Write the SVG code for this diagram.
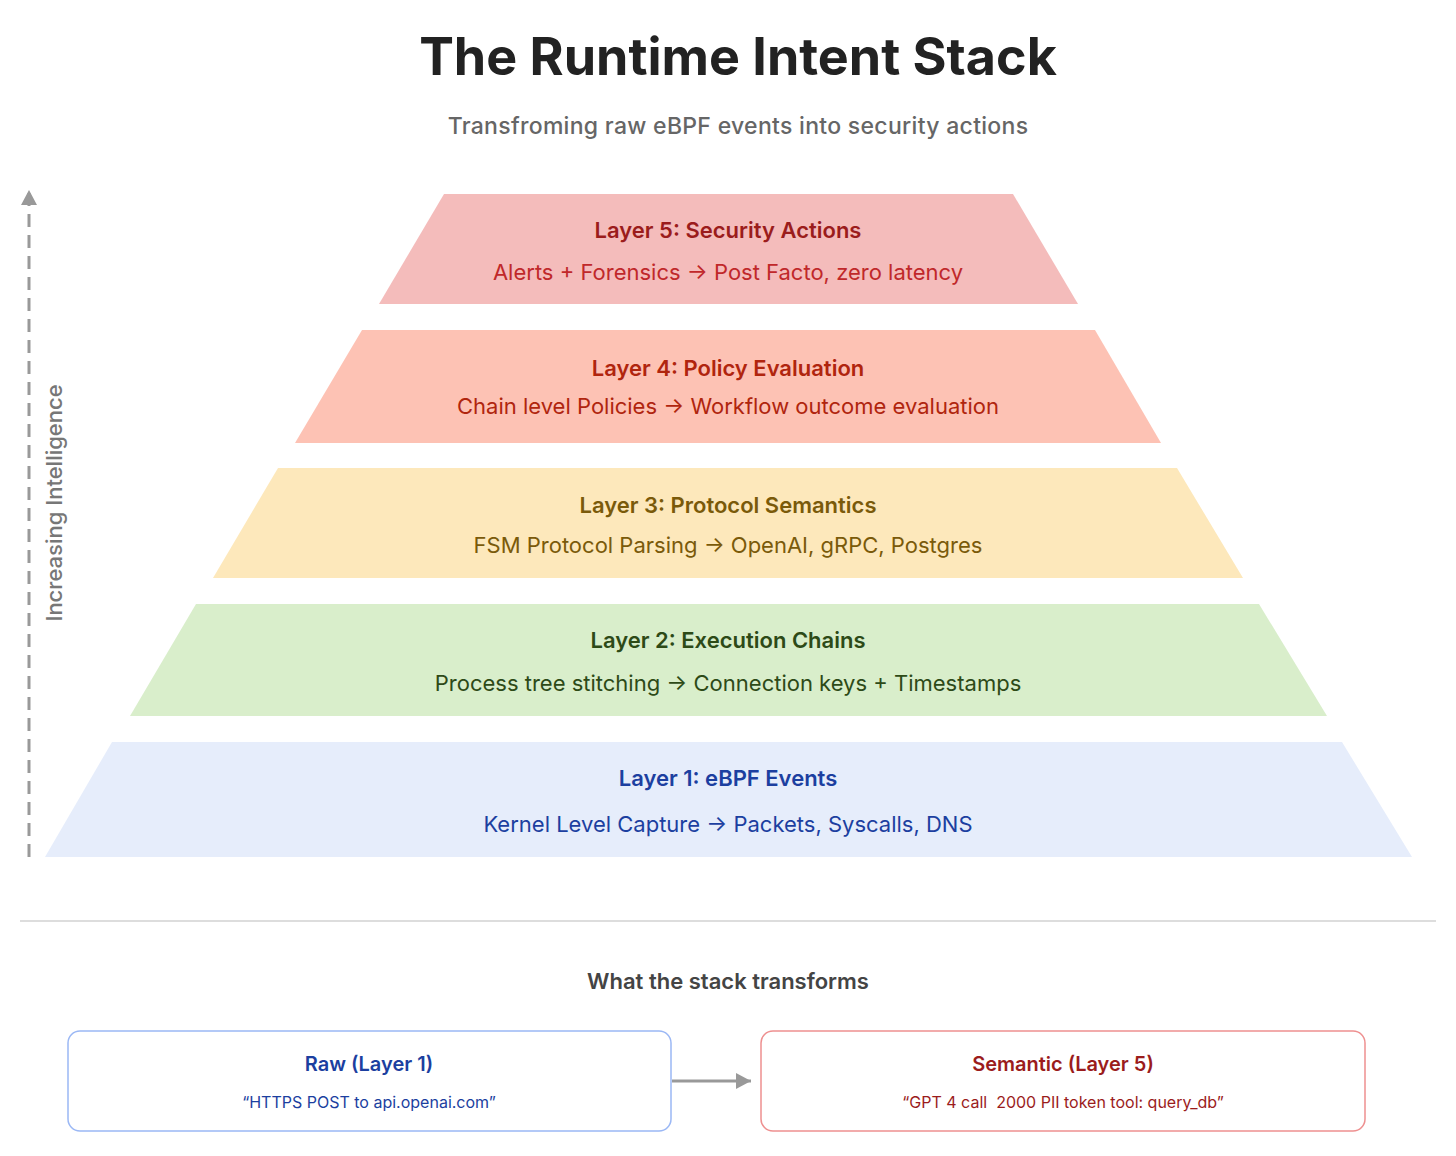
<svg xmlns="http://www.w3.org/2000/svg" width="1456" height="1156" viewBox="0 0 1456 1156">
<style>
text{font-family:Inter,"Noto Sans","Liberation Sans",sans-serif;text-anchor:middle}
.t{font-size:22px;font-weight:600}
.s{font-size:22px}
.b{font-size:20px;font-weight:600}
.bs{font-size:16px}
</style>
<defs>
<marker id="ah2" markerWidth="16" markerHeight="16" refX="15" refY="8" orient="auto" markerUnits="userSpaceOnUse"><path d="M0,0 L15,8 L0,16 Z" fill="#999"/></marker>
</defs>
<rect width="1456" height="1156" fill="#fff"/>
<text x="738" y="75" style="font-size:52px;font-weight:700" fill="#222">The Runtime Intent Stack</text>
<text x="738" y="134" style="font-size:23px;font-weight:500;letter-spacing:0.3px" fill="#666">Transfroming raw eBPF events into security actions</text>
<g id="axis">
<line x1="29" y1="857" x2="29" y2="190" stroke="#999" stroke-width="3" stroke-dasharray="13,8" marker-end="url(#ah2)"/>
<text x="0" y="0" transform="translate(62,503) rotate(-90)" style="font-size:22px;font-weight:500" fill="#777">Increasing Intelligence</text>
</g>
<g id="layer5"><polygon points="444,194 1013,194 1078,304 379,304" fill="#f4bcbb"/>
<text x="728" y="238" class="t" fill="#9b1c1c">Layer 5: Security Actions</text>
<text x="728" y="280" class="s" fill="#c0282a">Alerts + Forensics → Post Facto, zero latency</text></g>
<g id="layer4"><polygon points="362,330 1095,330 1161,443 295,443" fill="#fdc2b4"/>
<text x="728" y="376" class="t" fill="#b0250e">Layer 4: Policy Evaluation</text>
<text x="728" y="414" class="s" fill="#b0250e">Chain level Policies → Workflow outcome evaluation</text></g>
<g id="layer3"><polygon points="278,468 1177,468 1243,578 213,578" fill="#fde8bb"/>
<text x="728" y="513" class="t" fill="#7a5a0a">Layer 3: Protocol Semantics</text>
<text x="728" y="553" class="s" fill="#7a5a0a">FSM Protocol Parsing → OpenAI, gRPC, Postgres</text></g>
<g id="layer2"><polygon points="196,604 1259,604 1327,716 130,716" fill="#d9eecb"/>
<text x="728" y="648" class="t" fill="#2d4a17">Layer 2: Execution Chains</text>
<text x="728" y="691" class="s" fill="#2d4a17">Process tree stitching → Connection keys + Timestamps</text></g>
<g id="layer1"><polygon points="112,742 1342,742 1412,857 45,857" fill="#e6edfb"/>
<text x="728" y="786" class="t" fill="#1c3fa0">Layer 1: eBPF Events</text>
<text x="728" y="832" class="s" fill="#1c3fa0">Kernel Level Capture → Packets, Syscalls, DNS</text></g>
<line x1="20" y1="921" x2="1436" y2="921" stroke="#ddd" stroke-width="2"/>
<text x="728" y="989" style="font-size:22px;font-weight:600" fill="#444">What the stack transforms</text>
<g id="raw"><rect x="68" y="1031" width="603" height="100" rx="12" fill="#fff" stroke="#9bb8f5" stroke-width="1.5"/>
<text x="369" y="1071" class="b" fill="#1c3fa0">Raw (Layer 1)</text>
<text x="369" y="1108" class="bs" fill="#1c3fa0">“HTTPS POST to api.openai.com”</text></g>
<g id="semantic"><rect x="761" y="1031" width="604" height="100" rx="12" fill="#fff" stroke="#ee9090" stroke-width="1.5"/>
<text x="1063" y="1071" class="b" fill="#9b1c1c">Semantic (Layer 5)</text>
<text x="1063" y="1108" class="bs" fill="#9b1c1c" xml:space="preserve">“GPT 4 call  2000 PII token tool: query_db”</text></g>
<g id="connectors"><line x1="672" y1="1081" x2="751" y2="1081" stroke="#999" stroke-width="3" marker-end="url(#ah2)"/></g>
</svg>
